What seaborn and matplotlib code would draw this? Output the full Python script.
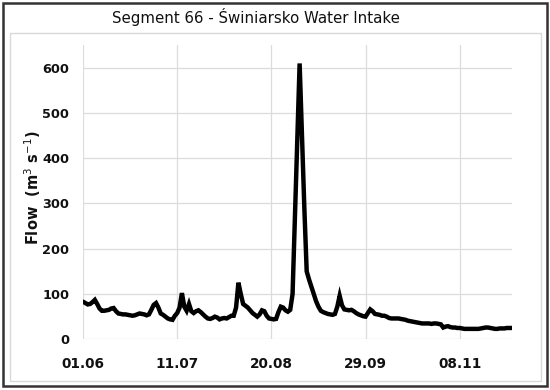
import numpy as np
import pandas as pd
import matplotlib
matplotlib.use('Agg')
import matplotlib.pyplot as plt
import matplotlib.dates as mdates
from matplotlib.patches import Rectangle
import seaborn as sns

# daily flow at the intake, 01.06 - 30.11
start_date = "2021-06-01"
flow = [
    83, 80, 77, 78, 82, 87, 78, 68, 63, 63,
    64, 65, 68, 69, 62, 57, 56, 55, 55, 54,
    53, 52, 53, 55, 57, 56, 55, 53, 55, 65,
    76, 80, 70, 57, 54, 50, 46, 44, 43, 52,
    58, 70, 102, 72, 63, 78, 62, 58, 62, 64,
    60, 55, 50, 46, 45, 47, 50, 48, 44, 46,
    47, 46, 49, 52, 52, 70, 125, 100, 78, 74,
    70, 64, 58, 54, 50, 55, 64, 62, 52, 46,
    45, 44, 45, 60, 72, 70, 64, 61, 65, 100,
    270, 440, 609, 450, 290, 150, 132, 116, 100, 84,
    72, 63, 60, 58, 56, 55, 54, 56, 72, 96,
    75, 66, 65, 64, 65, 62, 58, 55, 53, 51,
    50, 58, 66, 62, 56, 55, 54, 52, 52, 50,
    47, 46, 46, 46, 46, 45, 44, 43, 41, 40,
    39, 38, 37, 36, 35, 35, 35, 35, 34, 35,
    35, 34, 33, 26, 28, 29, 27, 26, 26, 25,
    25, 24, 23, 23, 23, 23, 23, 23, 23, 24,
    25, 26, 26, 25, 24, 23, 23, 24, 24, 24,
    25, 25, 25,
]
tick_labels = ["01.06", "11.07", "20.08", "29.09", "08.11"]
y_ticks = [0, 100, 200, 300, 400, 500, 600]

dates = pd.date_range(start_date, periods=len(flow), freq="D")
df = pd.DataFrame({"date": dates, "flow": flow})
tick_dates = pd.to_datetime([t + ".2021" for t in tick_labels], format="%d.%m.%Y")

sns.set_style("white")
plt.rcParams['font.family'] = ['DejaVu Sans']

fig = plt.figure(figsize=(5.5, 3.9), dpi=100)
ax = fig.add_axes([0.151, 0.130, 0.779, 0.755])

sns.lineplot(data=df, x="date", y="flow", ax=ax, color="black", lw=3.2,
             solid_joinstyle="miter")

ax.set_xlim(dates[0], dates[-1])
ax.set_ylim(0, 650)
ax.set_xticks(tick_dates)
ax.xaxis.set_major_formatter(mdates.DateFormatter("%d.%m"))
ax.set_yticks(y_ticks)
ax.grid(True, color="#dcdcdc", lw=0.9)
ax.set_axisbelow(True)
for s in ax.spines.values():
    s.set_visible(False)
ax.tick_params(length=0)
ax.tick_params(axis="x", pad=13, labelsize=9.8)
ax.tick_params(axis="y", pad=10, labelsize=9.3)
for lab in ax.get_xticklabels() + ax.get_yticklabels():
    lab.set_fontweight("bold")
    lab.set_color("#111111")
ax.set_xlabel("")
ax.set_ylabel("")

fig.text(0.06, 0.518, r"Flow  (m$^3$ s$^{-1}$)", rotation=90, ha="center",
         va="center", fontsize=10.5, fontweight="bold", color="#111111")
fig.text(0.466, 0.956, "Segment 66 - Świniarsko Water Intake", ha="center",
         va="center", fontsize=10.8, color="#111111")

# chart-area frame and outer border
fig.patches.append(Rectangle((10 / 550, 1 - 381 / 390), 531 / 550, 348 / 390,
                             transform=fig.transFigure, fill=False,
                             ec="#d9d9d9", lw=1))
fig.patches.append(Rectangle((3 / 550, 1 - 386 / 390), 544 / 550, 383 / 390,
                             transform=fig.transFigure, fill=False,
                             ec="#333333", lw=1.8))

fig.savefig("out.png", dpi=100)
plt.close(fig)
